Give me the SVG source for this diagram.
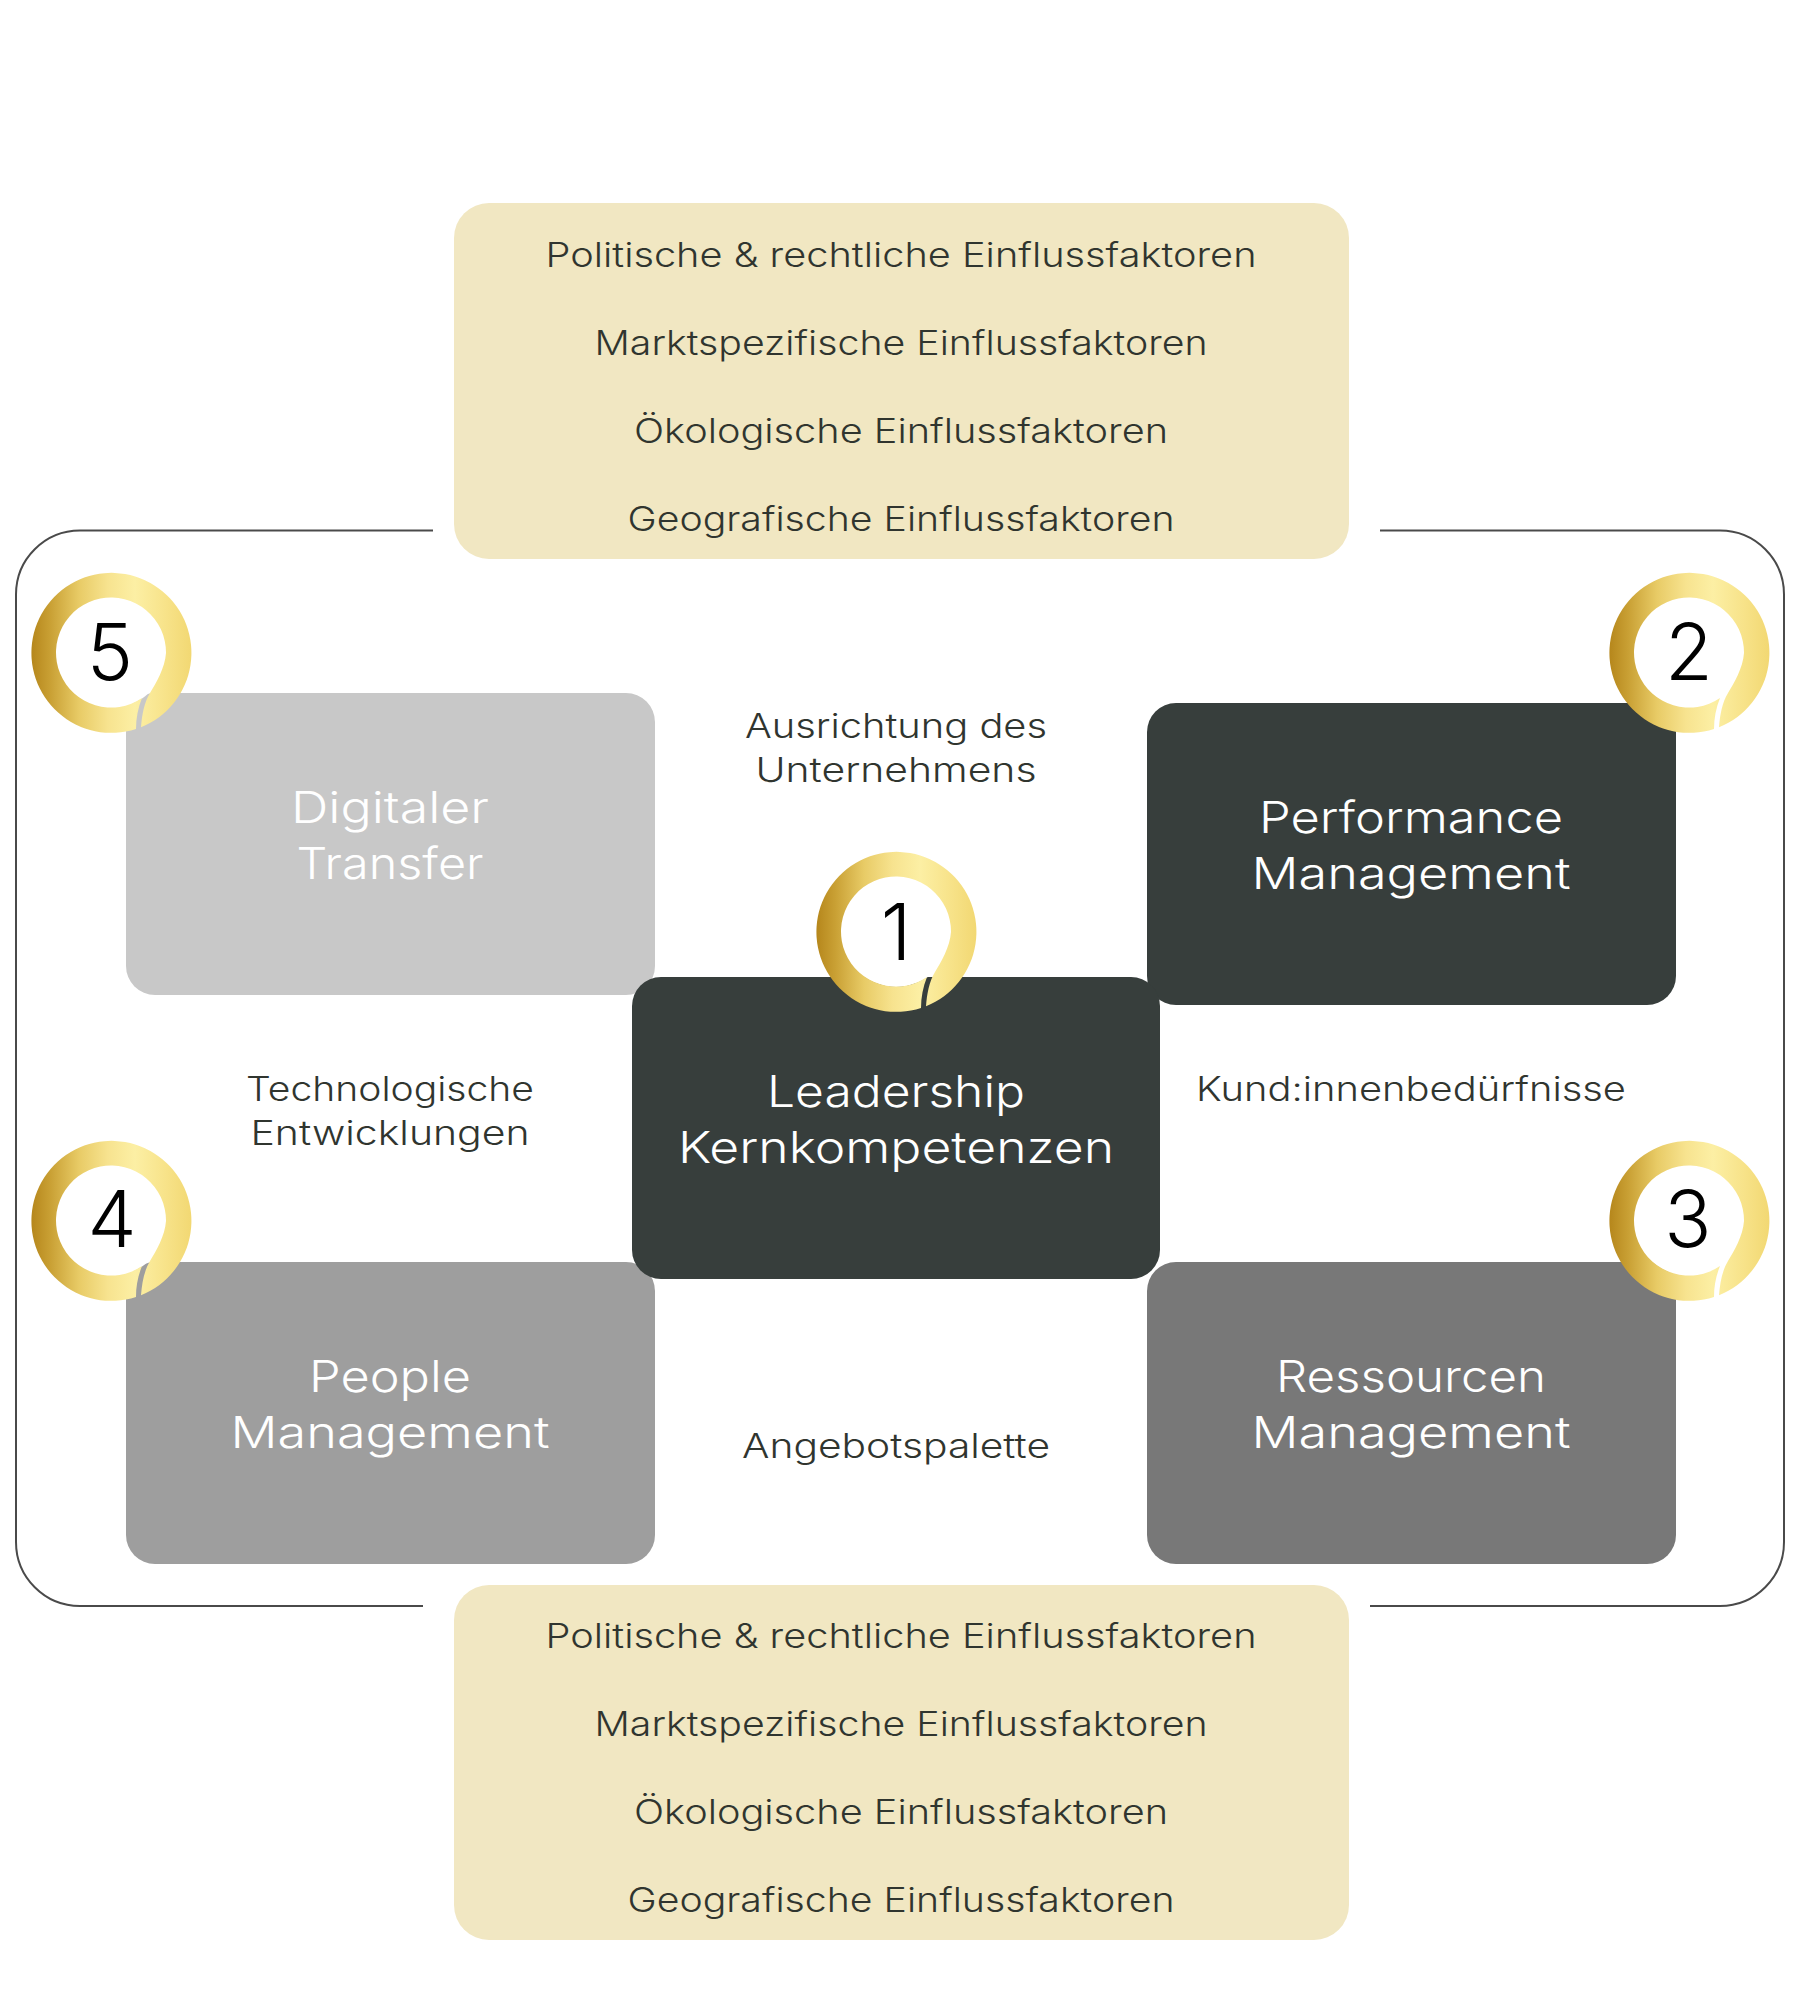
<svg xmlns="http://www.w3.org/2000/svg" width="1800" height="2000" viewBox="0 0 1800 2000">
<style>
text{font-family:"Inter","Liberation Sans",sans-serif;text-anchor:middle}
.f{fill:#f1e7c2}
.l{font-size:33.5px;font-weight:300;fill:#30352f}
.n{font-size:44px;font-weight:300;fill:#fff}
.d{font-size:78px;font-weight:300;fill:#000}
.c{fill:none;stroke:#4a4a4a;stroke-width:2}
</style>
<defs>
<linearGradient id="gold" gradientUnits="userSpaceOnUse" x1="-80" y1="0" x2="80" y2="0">
<stop offset="0" stop-color="#b5861b"/><stop offset=".12" stop-color="#c9a034"/><stop offset=".3" stop-color="#e8cb66"/><stop offset=".48" stop-color="#f7e38f"/><stop offset=".65" stop-color="#fcefa4"/><stop offset=".85" stop-color="#f7e288"/><stop offset="1" stop-color="#f2d873"/>
</linearGradient>
<g id="badge">
<circle r="55" fill="#fff"/>
<path fill="url(#gold)" d="M30,74.2A80,80 0 1 0 25,76C25,65 27,55 31,45A55,55 0 1 1 55,0C54,15 45,30 39,40C33,50 31,62 30,74.2Z"/>
</g>
</defs>
<rect width="1800" height="2000" fill="#fff"/>
<g id="connectors">
<path class="c" d="M433,530.5H80A64,64 0 0 0 16,594.5V1542A64,64 0 0 0 80,1606H423"/>
<path class="c" d="M1380,530.5H1720A64,64 0 0 1 1784,594.5V1542A64,64 0 0 1 1720,1606H1370"/>
</g>
<g id="factors-top">
<rect class="f" x="454" y="203" width="895" height="356" rx="35"/>
<text class="l" x="901" y="267" textLength="711" lengthAdjust="spacingAndGlyphs">Politische &amp; rechtliche Einflussfaktoren</text>
<text class="l" x="901" y="355" textLength="613" lengthAdjust="spacingAndGlyphs">Marktspezifische Einflussfaktoren</text>
<text class="l" x="901" y="443" textLength="534" lengthAdjust="spacingAndGlyphs">Ökologische Einflussfaktoren</text>
<text class="l" x="901" y="531" textLength="547" lengthAdjust="spacingAndGlyphs">Geografische Einflussfaktoren</text>
</g>
<g id="factors-bottom">
<rect class="f" x="454" y="1585" width="895" height="355" rx="35"/>
<text class="l" x="901" y="1648" textLength="711" lengthAdjust="spacingAndGlyphs">Politische &amp; rechtliche Einflussfaktoren</text>
<text class="l" x="901" y="1736" textLength="613" lengthAdjust="spacingAndGlyphs">Marktspezifische Einflussfaktoren</text>
<text class="l" x="901" y="1824" textLength="534" lengthAdjust="spacingAndGlyphs">Ökologische Einflussfaktoren</text>
<text class="l" x="901" y="1912" textLength="547" lengthAdjust="spacingAndGlyphs">Geografische Einflussfaktoren</text>
</g>
<g id="node-5">
<rect x="126" y="693" width="529" height="302" rx="29" fill="#c8c8c8"/>
<text class="n" x="390" y="823" textLength="198" lengthAdjust="spacingAndGlyphs">Digitaler</text>
<text class="n" x="390" y="879" textLength="187" lengthAdjust="spacingAndGlyphs">Transfer</text>
<use href="#badge" x="111" y="653"/>
<text class="d" x="110" y="680">5</text>
</g>
<g id="node-2">
<rect x="1147" y="703" width="529" height="302" rx="29" fill="#373e3c"/>
<text class="n" x="1411" y="833" textLength="304" lengthAdjust="spacingAndGlyphs">Performance</text>
<text class="n" x="1411" y="889" textLength="319" lengthAdjust="spacingAndGlyphs">Management</text>
<use href="#badge" x="1689" y="653"/>
<text class="d" x="1689" y="680">2</text>
</g>
<g id="node-4">
<rect x="126" y="1262" width="529" height="302" rx="29" fill="#9e9e9e"/>
<text class="n" x="390" y="1392" textLength="162" lengthAdjust="spacingAndGlyphs">People</text>
<text class="n" x="390" y="1448" textLength="319" lengthAdjust="spacingAndGlyphs">Management</text>
<use href="#badge" x="111" y="1221"/>
<text class="d" x="112" y="1247">4</text>
</g>
<g id="node-3">
<rect x="1147" y="1262" width="529" height="302" rx="29" fill="#787878"/>
<text class="n" x="1411" y="1392" textLength="270" lengthAdjust="spacingAndGlyphs">Ressourcen</text>
<text class="n" x="1411" y="1448" textLength="319" lengthAdjust="spacingAndGlyphs">Management</text>
<use href="#badge" x="1689" y="1221"/>
<text class="d" x="1688" y="1247">3</text>
</g>
<g id="node-1">
<rect x="632" y="977" width="528" height="302" rx="29" fill="#373e3c"/>
<text class="n" x="896" y="1107" textLength="258" lengthAdjust="spacingAndGlyphs">Leadership</text>
<text class="n" x="896" y="1163" textLength="436" lengthAdjust="spacingAndGlyphs">Kernkompetenzen</text>
<use href="#badge" x="896" y="932"/>
<text class="d" x="896" y="960">1</text>
</g>
<g id="labels">
<text class="l" x="896" y="738" textLength="302" lengthAdjust="spacingAndGlyphs">Ausrichtung des</text>
<text class="l" x="896" y="782" textLength="281" lengthAdjust="spacingAndGlyphs">Unternehmens</text>
<text class="l" x="390" y="1101" textLength="288" lengthAdjust="spacingAndGlyphs">Technologische</text>
<text class="l" x="390" y="1145" textLength="279" lengthAdjust="spacingAndGlyphs">Entwicklungen</text>
<text class="l" x="1411" y="1101" textLength="430" lengthAdjust="spacingAndGlyphs">Kund:innenbedürfnisse</text>
<text class="l" x="896" y="1458" textLength="308" lengthAdjust="spacingAndGlyphs">Angebotspalette</text>
</g>
</svg>
